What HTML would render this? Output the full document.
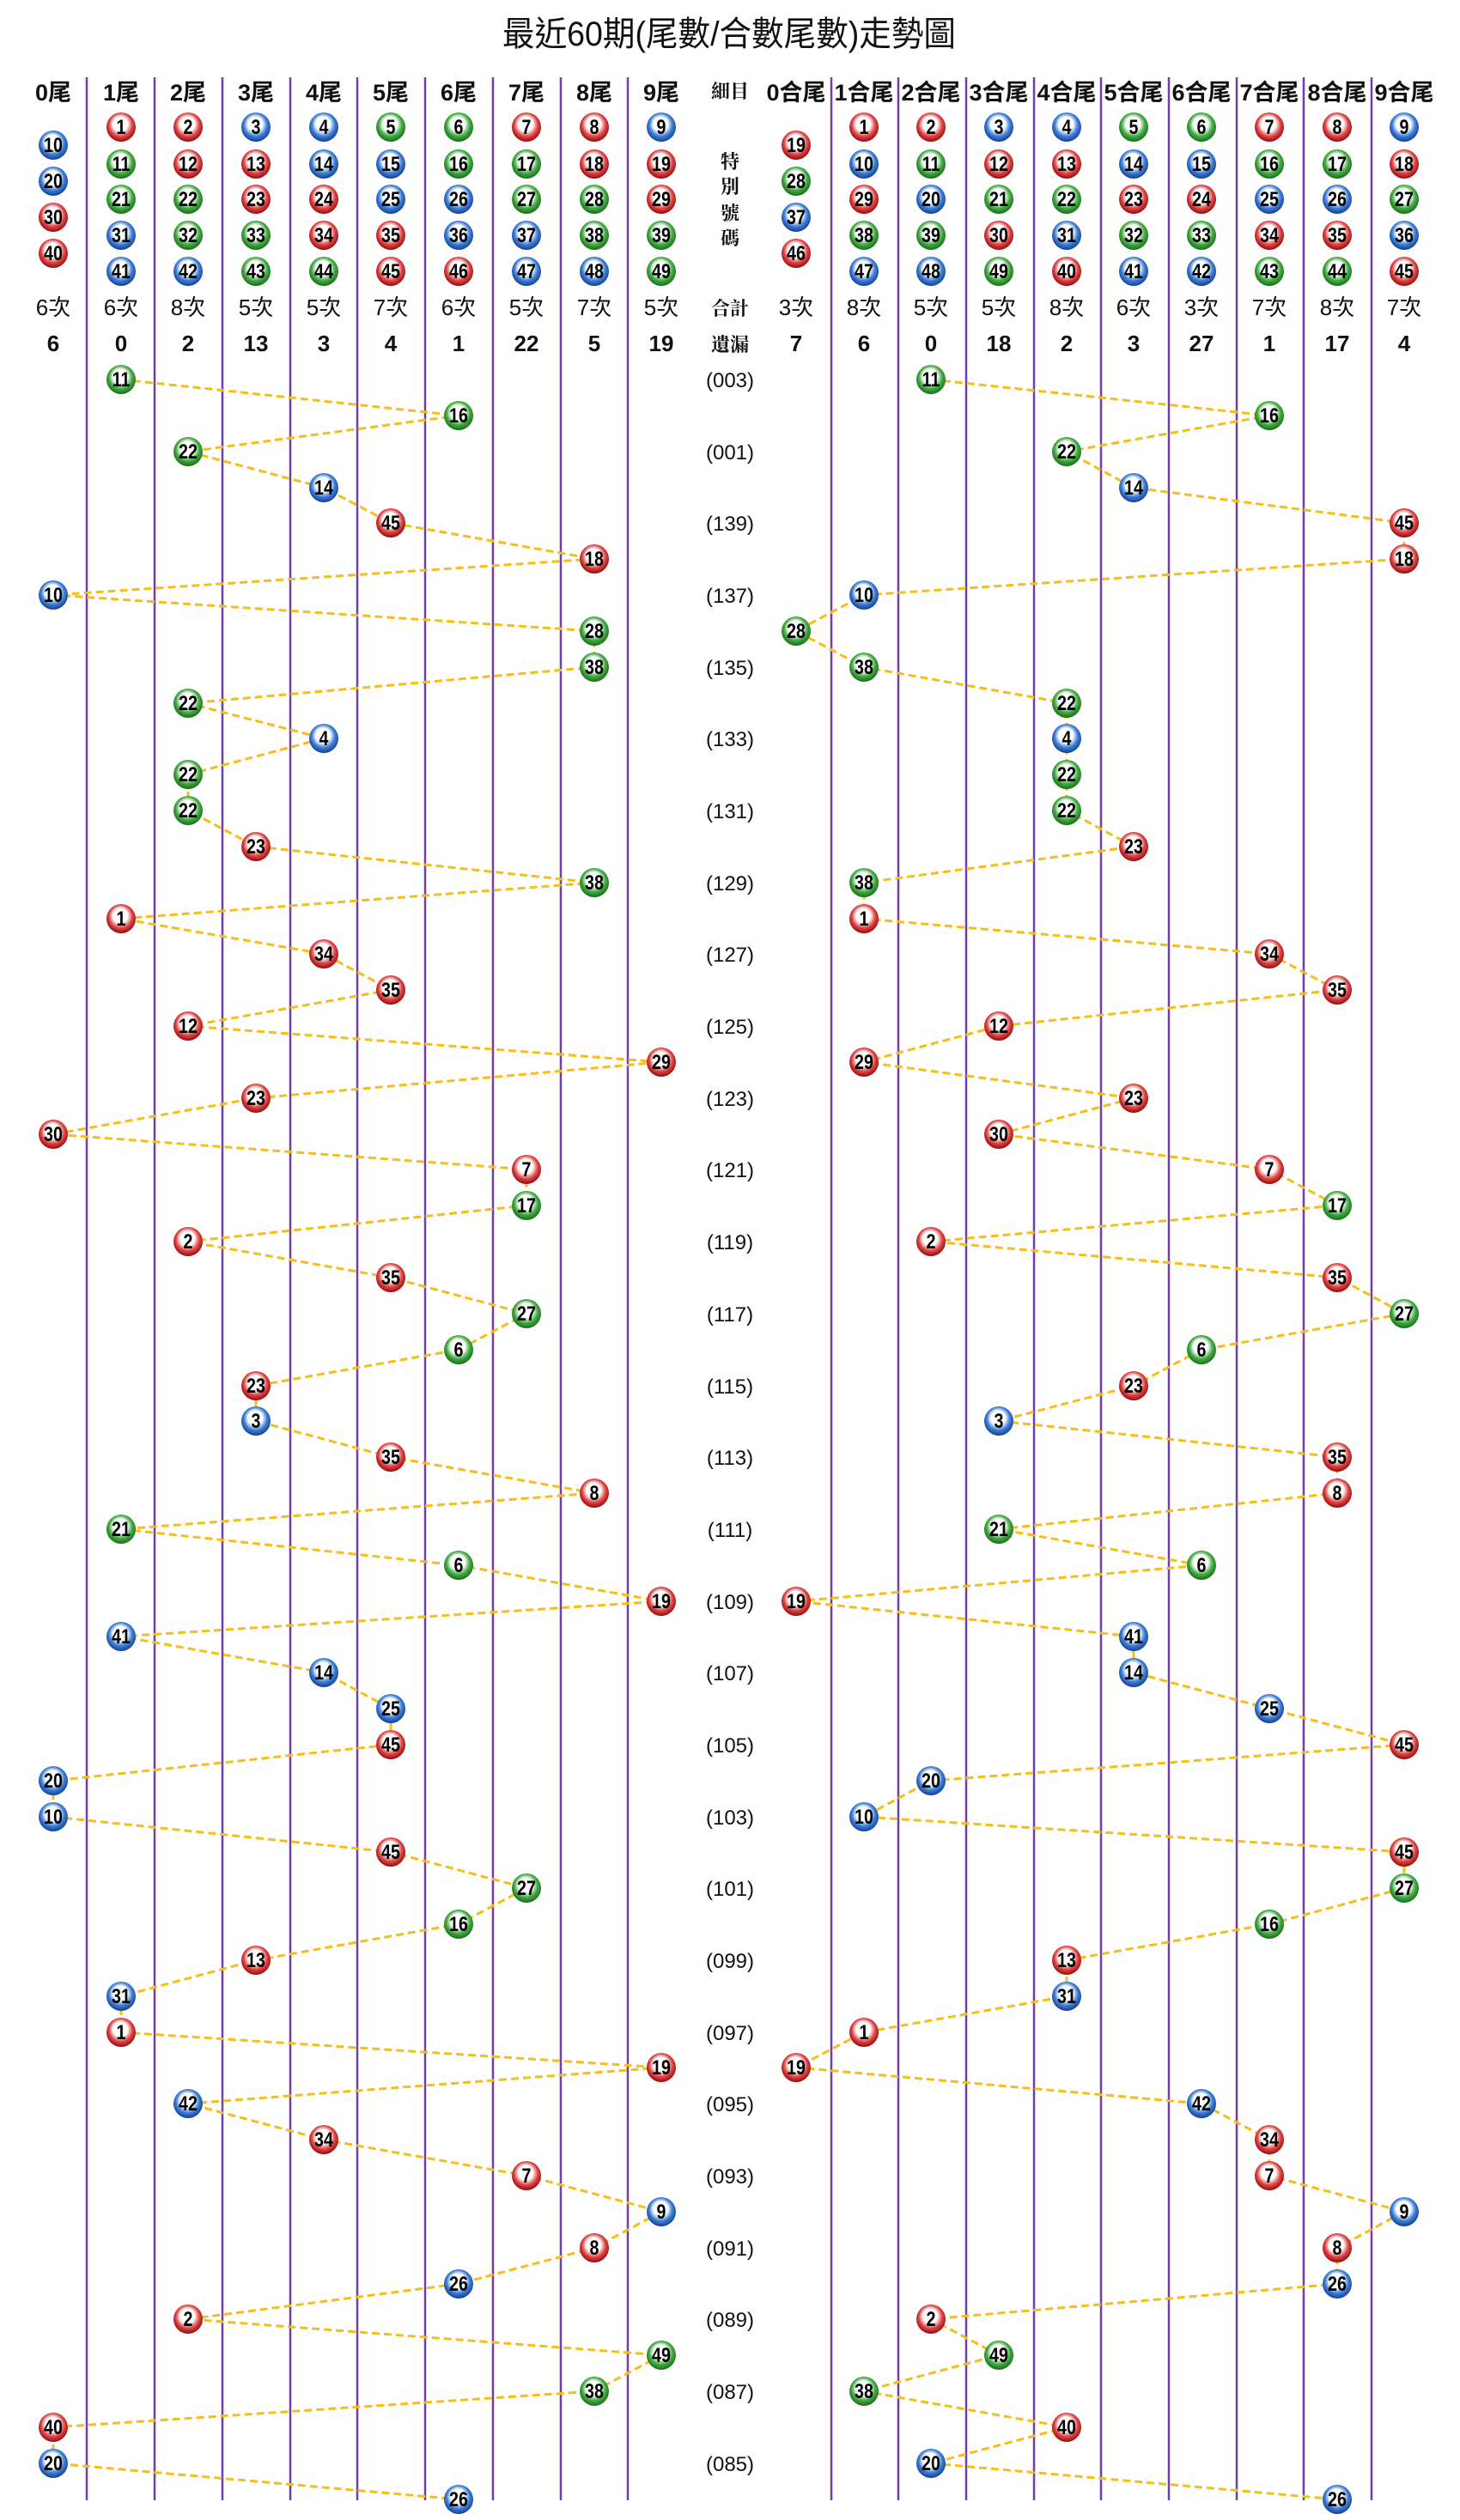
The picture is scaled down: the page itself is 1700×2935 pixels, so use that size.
<!DOCTYPE html>
<html><head><meta charset="utf-8"><style>
html,body{margin:0;padding:0;background:#fff}
svg{display:block}
.t{font-family:"Liberation Sans","Noto Sans CJK TC",sans-serif;fill:#111}
.b text{font-family:"Liberation Sans Narrow","Liberation Sans",sans-serif;font-weight:bold;font-size:24px;text-anchor:middle;fill:#000;transform:scaleX(.82)}
.r circle{fill:url(#R)}.g circle{fill:url(#G)}.u circle{fill:url(#B)}
.h{font-size:27px;font-weight:bold;text-anchor:middle}
.c{font-size:26px;text-anchor:middle}
.m{font-size:26px;font-weight:bold;text-anchor:middle}
.s{font-family:"Noto Serif CJK SC",serif;font-size:22px;text-anchor:middle;font-weight:bold;fill:#111}
.p{font-size:24px;text-anchor:middle}
.ln{fill:none;stroke:#f7bd1a;stroke-width:3;stroke-dasharray:9 5}
</style></head><body>
<svg width="1700" height="2935" viewBox="0 0 1700 2935" xmlns="http://www.w3.org/2000/svg">
<defs>
<radialGradient id="R" cx="50%" cy="45%" r="55%" fx="45%" fy="35%"><stop offset="0" stop-color="#fff"/><stop offset="0.45" stop-color="#fff"/><stop offset="0.72" stop-color="#e04848"/><stop offset="1" stop-color="#9a0808"/></radialGradient>
<radialGradient id="G" cx="50%" cy="45%" r="55%" fx="45%" fy="35%"><stop offset="0" stop-color="#fff"/><stop offset="0.45" stop-color="#fff"/><stop offset="0.72" stop-color="#44ac44"/><stop offset="1" stop-color="#176e17"/></radialGradient>
<radialGradient id="B" cx="50%" cy="45%" r="55%" fx="45%" fy="35%"><stop offset="0" stop-color="#fff"/><stop offset="0.45" stop-color="#fff"/><stop offset="0.72" stop-color="#3f7fd6"/><stop offset="1" stop-color="#123f98"/></radialGradient>
</defs>
<text class="t" x="849" y="53" text-anchor="middle" font-size="40" textLength="528" lengthAdjust="spacingAndGlyphs">最近60期(尾數/合數尾數)走勢圖</text>
<g stroke="#7040a8" stroke-width="2.5">
<line x1="101" y1="90" x2="101" y2="2912"/><line x1="180" y1="90" x2="180" y2="2912"/><line x1="259" y1="90" x2="259" y2="2912"/><line x1="338" y1="90" x2="338" y2="2912"/><line x1="416" y1="90" x2="416" y2="2912"/><line x1="495" y1="90" x2="495" y2="2912"/><line x1="574" y1="90" x2="574" y2="2912"/><line x1="653" y1="90" x2="653" y2="2912"/><line x1="731" y1="90" x2="731" y2="2912"/>
<line x1="968" y1="90" x2="968" y2="2912"/><line x1="1046" y1="90" x2="1046" y2="2912"/><line x1="1125" y1="90" x2="1125" y2="2912"/><line x1="1204" y1="90" x2="1204" y2="2912"/><line x1="1282" y1="90" x2="1282" y2="2912"/><line x1="1361" y1="90" x2="1361" y2="2912"/><line x1="1440" y1="90" x2="1440" y2="2912"/><line x1="1518" y1="90" x2="1518" y2="2912"/><line x1="1597" y1="90" x2="1597" y2="2912"/>
</g>
<g class="t">
<text class="h" x="62" y="117">0尾</text><text class="h" x="141" y="117">1尾</text><text class="h" x="219" y="117">2尾</text><text class="h" x="298" y="117">3尾</text><text class="h" x="377" y="117">4尾</text><text class="h" x="455" y="117">5尾</text><text class="h" x="534" y="117">6尾</text><text class="h" x="613" y="117">7尾</text><text class="h" x="692" y="117">8尾</text><text class="h" x="770" y="117">9尾</text>
<text class="h" x="927" y="117">0合尾</text><text class="h" x="1006" y="117">1合尾</text><text class="h" x="1084" y="117">2合尾</text><text class="h" x="1163" y="117">3合尾</text><text class="h" x="1242" y="117">4合尾</text><text class="h" x="1320" y="117">5合尾</text><text class="h" x="1399" y="117">6合尾</text><text class="h" x="1478" y="117">7合尾</text><text class="h" x="1557" y="117">8合尾</text><text class="h" x="1635" y="117">9合尾</text>
</g>
<text class="s" x="850" y="114">細目</text>
<text class="s" x="850" y="196">特</text><text class="s" x="850" y="225">別</text><text class="s" x="850" y="256">號</text><text class="s" x="850" y="285">碼</text>
<text class="s" x="850" y="367">合計</text><text class="s" x="850" y="409">遺漏</text>
<g class="t">
<text class="c" x="62" y="367">6次</text><text class="c" x="141" y="367">6次</text><text class="c" x="219" y="367">8次</text><text class="c" x="298" y="367">5次</text><text class="c" x="377" y="367">5次</text><text class="c" x="455" y="367">7次</text><text class="c" x="534" y="367">6次</text><text class="c" x="613" y="367">5次</text><text class="c" x="692" y="367">7次</text><text class="c" x="770" y="367">5次</text>
<text class="c" x="927" y="367">3次</text><text class="c" x="1006" y="367">8次</text><text class="c" x="1084" y="367">5次</text><text class="c" x="1163" y="367">5次</text><text class="c" x="1242" y="367">8次</text><text class="c" x="1320" y="367">6次</text><text class="c" x="1399" y="367">3次</text><text class="c" x="1478" y="367">7次</text><text class="c" x="1557" y="367">8次</text><text class="c" x="1635" y="367">7次</text>
<text class="m" x="62" y="409">6</text><text class="m" x="141" y="409">0</text><text class="m" x="219" y="409">2</text><text class="m" x="298" y="409">13</text><text class="m" x="377" y="409">3</text><text class="m" x="455" y="409">4</text><text class="m" x="534" y="409">1</text><text class="m" x="613" y="409">22</text><text class="m" x="692" y="409">5</text><text class="m" x="770" y="409">19</text>
<text class="m" x="927" y="409">7</text><text class="m" x="1006" y="409">6</text><text class="m" x="1084" y="409">0</text><text class="m" x="1163" y="409">18</text><text class="m" x="1242" y="409">2</text><text class="m" x="1320" y="409">3</text><text class="m" x="1399" y="409">27</text><text class="m" x="1478" y="409">1</text><text class="m" x="1557" y="409">17</text><text class="m" x="1635" y="409">4</text>
</g>
<g class="t">
<text class="p" x="850" y="451">(003)</text><text class="p" x="850" y="535">(001)</text><text class="p" x="850" y="618">(139)</text><text class="p" x="850" y="702">(137)</text><text class="p" x="850" y="786">(135)</text><text class="p" x="850" y="869">(133)</text><text class="p" x="850" y="953">(131)</text><text class="p" x="850" y="1037">(129)</text><text class="p" x="850" y="1120">(127)</text><text class="p" x="850" y="1204">(125)</text><text class="p" x="850" y="1288">(123)</text><text class="p" x="850" y="1371">(121)</text><text class="p" x="850" y="1455">(119)</text><text class="p" x="850" y="1539">(117)</text><text class="p" x="850" y="1623">(115)</text><text class="p" x="850" y="1706">(113)</text><text class="p" x="850" y="1790">(111)</text><text class="p" x="850" y="1874">(109)</text><text class="p" x="850" y="1957">(107)</text><text class="p" x="850" y="2041">(105)</text><text class="p" x="850" y="2125">(103)</text><text class="p" x="850" y="2208">(101)</text><text class="p" x="850" y="2292">(099)</text><text class="p" x="850" y="2376">(097)</text><text class="p" x="850" y="2459">(095)</text><text class="p" x="850" y="2543">(093)</text><text class="p" x="850" y="2627">(091)</text><text class="p" x="850" y="2710">(089)</text><text class="p" x="850" y="2794">(087)</text><text class="p" x="850" y="2878">(085)</text>
</g>
<polyline class="ln" points="141,442 534,484 219,526 377,568 455,609 692,651 62,693 692,735 692,777 219,819 377,860 219,902 219,944 298,986 692,1028 141,1070 377,1111 455,1153 219,1195 770,1237 298,1279 62,1321 613,1362 613,1404 219,1446 455,1488 613,1530 534,1572 298,1614 298,1655 455,1697 692,1739 141,1781 534,1823 770,1865 141,1906 377,1948 455,1990 455,2032 62,2074 62,2116 455,2157 613,2199 534,2241 298,2283 141,2325 141,2367 770,2408 219,2450 377,2492 613,2534 770,2576 692,2618 534,2660 219,2701 770,2743 692,2785 62,2827 62,2869 534,2911"/>
<polyline class="ln" points="1084,442 1478,484 1242,526 1320,568 1635,609 1635,651 1006,693 927,735 1006,777 1242,819 1242,860 1242,902 1242,944 1320,986 1006,1028 1006,1070 1478,1111 1557,1153 1163,1195 1006,1237 1320,1279 1163,1321 1478,1362 1557,1404 1084,1446 1557,1488 1635,1530 1399,1572 1320,1614 1163,1655 1557,1697 1557,1739 1163,1781 1399,1823 927,1865 1320,1906 1320,1948 1478,1990 1635,2032 1084,2074 1006,2116 1635,2157 1635,2199 1478,2241 1242,2283 1242,2325 1006,2367 927,2408 1399,2450 1478,2492 1478,2534 1635,2576 1557,2618 1557,2660 1084,2701 1163,2743 1006,2785 1242,2827 1084,2869 1557,2911"/>
<g class="b u" transform="translate(62 169)"><circle r="17"/><text y="8">10</text></g>
<g class="b u" transform="translate(62 211)"><circle r="17"/><text y="8">20</text></g>
<g class="b r" transform="translate(62 253)"><circle r="17"/><text y="8">30</text></g>
<g class="b r" transform="translate(62 295)"><circle r="17"/><text y="8">40</text></g>
<g class="b r" transform="translate(141 148)"><circle r="17"/><text y="8">1</text></g>
<g class="b g" transform="translate(141 191)"><circle r="17"/><text y="8">11</text></g>
<g class="b g" transform="translate(141 232)"><circle r="17"/><text y="8">21</text></g>
<g class="b u" transform="translate(141 274)"><circle r="17"/><text y="8">31</text></g>
<g class="b u" transform="translate(141 316)"><circle r="17"/><text y="8">41</text></g>
<g class="b r" transform="translate(219 148)"><circle r="17"/><text y="8">2</text></g>
<g class="b r" transform="translate(219 191)"><circle r="17"/><text y="8">12</text></g>
<g class="b g" transform="translate(219 232)"><circle r="17"/><text y="8">22</text></g>
<g class="b g" transform="translate(219 274)"><circle r="17"/><text y="8">32</text></g>
<g class="b u" transform="translate(219 316)"><circle r="17"/><text y="8">42</text></g>
<g class="b u" transform="translate(298 148)"><circle r="17"/><text y="8">3</text></g>
<g class="b r" transform="translate(298 191)"><circle r="17"/><text y="8">13</text></g>
<g class="b r" transform="translate(298 232)"><circle r="17"/><text y="8">23</text></g>
<g class="b g" transform="translate(298 274)"><circle r="17"/><text y="8">33</text></g>
<g class="b g" transform="translate(298 316)"><circle r="17"/><text y="8">43</text></g>
<g class="b u" transform="translate(377 148)"><circle r="17"/><text y="8">4</text></g>
<g class="b u" transform="translate(377 191)"><circle r="17"/><text y="8">14</text></g>
<g class="b r" transform="translate(377 232)"><circle r="17"/><text y="8">24</text></g>
<g class="b r" transform="translate(377 274)"><circle r="17"/><text y="8">34</text></g>
<g class="b g" transform="translate(377 316)"><circle r="17"/><text y="8">44</text></g>
<g class="b g" transform="translate(455 148)"><circle r="17"/><text y="8">5</text></g>
<g class="b u" transform="translate(455 191)"><circle r="17"/><text y="8">15</text></g>
<g class="b u" transform="translate(455 232)"><circle r="17"/><text y="8">25</text></g>
<g class="b r" transform="translate(455 274)"><circle r="17"/><text y="8">35</text></g>
<g class="b r" transform="translate(455 316)"><circle r="17"/><text y="8">45</text></g>
<g class="b g" transform="translate(534 148)"><circle r="17"/><text y="8">6</text></g>
<g class="b g" transform="translate(534 191)"><circle r="17"/><text y="8">16</text></g>
<g class="b u" transform="translate(534 232)"><circle r="17"/><text y="8">26</text></g>
<g class="b u" transform="translate(534 274)"><circle r="17"/><text y="8">36</text></g>
<g class="b r" transform="translate(534 316)"><circle r="17"/><text y="8">46</text></g>
<g class="b r" transform="translate(613 148)"><circle r="17"/><text y="8">7</text></g>
<g class="b g" transform="translate(613 191)"><circle r="17"/><text y="8">17</text></g>
<g class="b g" transform="translate(613 232)"><circle r="17"/><text y="8">27</text></g>
<g class="b u" transform="translate(613 274)"><circle r="17"/><text y="8">37</text></g>
<g class="b u" transform="translate(613 316)"><circle r="17"/><text y="8">47</text></g>
<g class="b r" transform="translate(692 148)"><circle r="17"/><text y="8">8</text></g>
<g class="b r" transform="translate(692 191)"><circle r="17"/><text y="8">18</text></g>
<g class="b g" transform="translate(692 232)"><circle r="17"/><text y="8">28</text></g>
<g class="b g" transform="translate(692 274)"><circle r="17"/><text y="8">38</text></g>
<g class="b u" transform="translate(692 316)"><circle r="17"/><text y="8">48</text></g>
<g class="b u" transform="translate(770 148)"><circle r="17"/><text y="8">9</text></g>
<g class="b r" transform="translate(770 191)"><circle r="17"/><text y="8">19</text></g>
<g class="b r" transform="translate(770 232)"><circle r="17"/><text y="8">29</text></g>
<g class="b g" transform="translate(770 274)"><circle r="17"/><text y="8">39</text></g>
<g class="b g" transform="translate(770 316)"><circle r="17"/><text y="8">49</text></g>
<g class="b r" transform="translate(927 169)"><circle r="17"/><text y="8">19</text></g>
<g class="b g" transform="translate(927 211)"><circle r="17"/><text y="8">28</text></g>
<g class="b u" transform="translate(927 253)"><circle r="17"/><text y="8">37</text></g>
<g class="b r" transform="translate(927 295)"><circle r="17"/><text y="8">46</text></g>
<g class="b r" transform="translate(1006 148)"><circle r="17"/><text y="8">1</text></g>
<g class="b u" transform="translate(1006 191)"><circle r="17"/><text y="8">10</text></g>
<g class="b r" transform="translate(1006 232)"><circle r="17"/><text y="8">29</text></g>
<g class="b g" transform="translate(1006 274)"><circle r="17"/><text y="8">38</text></g>
<g class="b u" transform="translate(1006 316)"><circle r="17"/><text y="8">47</text></g>
<g class="b r" transform="translate(1084 148)"><circle r="17"/><text y="8">2</text></g>
<g class="b g" transform="translate(1084 191)"><circle r="17"/><text y="8">11</text></g>
<g class="b u" transform="translate(1084 232)"><circle r="17"/><text y="8">20</text></g>
<g class="b g" transform="translate(1084 274)"><circle r="17"/><text y="8">39</text></g>
<g class="b u" transform="translate(1084 316)"><circle r="17"/><text y="8">48</text></g>
<g class="b u" transform="translate(1163 148)"><circle r="17"/><text y="8">3</text></g>
<g class="b r" transform="translate(1163 191)"><circle r="17"/><text y="8">12</text></g>
<g class="b g" transform="translate(1163 232)"><circle r="17"/><text y="8">21</text></g>
<g class="b r" transform="translate(1163 274)"><circle r="17"/><text y="8">30</text></g>
<g class="b g" transform="translate(1163 316)"><circle r="17"/><text y="8">49</text></g>
<g class="b u" transform="translate(1242 148)"><circle r="17"/><text y="8">4</text></g>
<g class="b r" transform="translate(1242 191)"><circle r="17"/><text y="8">13</text></g>
<g class="b g" transform="translate(1242 232)"><circle r="17"/><text y="8">22</text></g>
<g class="b u" transform="translate(1242 274)"><circle r="17"/><text y="8">31</text></g>
<g class="b r" transform="translate(1242 316)"><circle r="17"/><text y="8">40</text></g>
<g class="b g" transform="translate(1320 148)"><circle r="17"/><text y="8">5</text></g>
<g class="b u" transform="translate(1320 191)"><circle r="17"/><text y="8">14</text></g>
<g class="b r" transform="translate(1320 232)"><circle r="17"/><text y="8">23</text></g>
<g class="b g" transform="translate(1320 274)"><circle r="17"/><text y="8">32</text></g>
<g class="b u" transform="translate(1320 316)"><circle r="17"/><text y="8">41</text></g>
<g class="b g" transform="translate(1399 148)"><circle r="17"/><text y="8">6</text></g>
<g class="b u" transform="translate(1399 191)"><circle r="17"/><text y="8">15</text></g>
<g class="b r" transform="translate(1399 232)"><circle r="17"/><text y="8">24</text></g>
<g class="b g" transform="translate(1399 274)"><circle r="17"/><text y="8">33</text></g>
<g class="b u" transform="translate(1399 316)"><circle r="17"/><text y="8">42</text></g>
<g class="b r" transform="translate(1478 148)"><circle r="17"/><text y="8">7</text></g>
<g class="b g" transform="translate(1478 191)"><circle r="17"/><text y="8">16</text></g>
<g class="b u" transform="translate(1478 232)"><circle r="17"/><text y="8">25</text></g>
<g class="b r" transform="translate(1478 274)"><circle r="17"/><text y="8">34</text></g>
<g class="b g" transform="translate(1478 316)"><circle r="17"/><text y="8">43</text></g>
<g class="b r" transform="translate(1557 148)"><circle r="17"/><text y="8">8</text></g>
<g class="b g" transform="translate(1557 191)"><circle r="17"/><text y="8">17</text></g>
<g class="b u" transform="translate(1557 232)"><circle r="17"/><text y="8">26</text></g>
<g class="b r" transform="translate(1557 274)"><circle r="17"/><text y="8">35</text></g>
<g class="b g" transform="translate(1557 316)"><circle r="17"/><text y="8">44</text></g>
<g class="b u" transform="translate(1635 148)"><circle r="17"/><text y="8">9</text></g>
<g class="b r" transform="translate(1635 191)"><circle r="17"/><text y="8">18</text></g>
<g class="b g" transform="translate(1635 232)"><circle r="17"/><text y="8">27</text></g>
<g class="b u" transform="translate(1635 274)"><circle r="17"/><text y="8">36</text></g>
<g class="b r" transform="translate(1635 316)"><circle r="17"/><text y="8">45</text></g>
<g class="b g" transform="translate(141 442)"><circle r="17"/><text y="8">11</text></g>
<g class="b g" transform="translate(534 484)"><circle r="17"/><text y="8">16</text></g>
<g class="b g" transform="translate(219 526)"><circle r="17"/><text y="8">22</text></g>
<g class="b u" transform="translate(377 568)"><circle r="17"/><text y="8">14</text></g>
<g class="b r" transform="translate(455 609)"><circle r="17"/><text y="8">45</text></g>
<g class="b r" transform="translate(692 651)"><circle r="17"/><text y="8">18</text></g>
<g class="b u" transform="translate(62 693)"><circle r="17"/><text y="8">10</text></g>
<g class="b g" transform="translate(692 735)"><circle r="17"/><text y="8">28</text></g>
<g class="b g" transform="translate(692 777)"><circle r="17"/><text y="8">38</text></g>
<g class="b g" transform="translate(219 819)"><circle r="17"/><text y="8">22</text></g>
<g class="b u" transform="translate(377 860)"><circle r="17"/><text y="8">4</text></g>
<g class="b g" transform="translate(219 902)"><circle r="17"/><text y="8">22</text></g>
<g class="b g" transform="translate(219 944)"><circle r="17"/><text y="8">22</text></g>
<g class="b r" transform="translate(298 986)"><circle r="17"/><text y="8">23</text></g>
<g class="b g" transform="translate(692 1028)"><circle r="17"/><text y="8">38</text></g>
<g class="b r" transform="translate(141 1070)"><circle r="17"/><text y="8">1</text></g>
<g class="b r" transform="translate(377 1111)"><circle r="17"/><text y="8">34</text></g>
<g class="b r" transform="translate(455 1153)"><circle r="17"/><text y="8">35</text></g>
<g class="b r" transform="translate(219 1195)"><circle r="17"/><text y="8">12</text></g>
<g class="b r" transform="translate(770 1237)"><circle r="17"/><text y="8">29</text></g>
<g class="b r" transform="translate(298 1279)"><circle r="17"/><text y="8">23</text></g>
<g class="b r" transform="translate(62 1321)"><circle r="17"/><text y="8">30</text></g>
<g class="b r" transform="translate(613 1362)"><circle r="17"/><text y="8">7</text></g>
<g class="b g" transform="translate(613 1404)"><circle r="17"/><text y="8">17</text></g>
<g class="b r" transform="translate(219 1446)"><circle r="17"/><text y="8">2</text></g>
<g class="b r" transform="translate(455 1488)"><circle r="17"/><text y="8">35</text></g>
<g class="b g" transform="translate(613 1530)"><circle r="17"/><text y="8">27</text></g>
<g class="b g" transform="translate(534 1572)"><circle r="17"/><text y="8">6</text></g>
<g class="b r" transform="translate(298 1614)"><circle r="17"/><text y="8">23</text></g>
<g class="b u" transform="translate(298 1655)"><circle r="17"/><text y="8">3</text></g>
<g class="b r" transform="translate(455 1697)"><circle r="17"/><text y="8">35</text></g>
<g class="b r" transform="translate(692 1739)"><circle r="17"/><text y="8">8</text></g>
<g class="b g" transform="translate(141 1781)"><circle r="17"/><text y="8">21</text></g>
<g class="b g" transform="translate(534 1823)"><circle r="17"/><text y="8">6</text></g>
<g class="b r" transform="translate(770 1865)"><circle r="17"/><text y="8">19</text></g>
<g class="b u" transform="translate(141 1906)"><circle r="17"/><text y="8">41</text></g>
<g class="b u" transform="translate(377 1948)"><circle r="17"/><text y="8">14</text></g>
<g class="b u" transform="translate(455 1990)"><circle r="17"/><text y="8">25</text></g>
<g class="b r" transform="translate(455 2032)"><circle r="17"/><text y="8">45</text></g>
<g class="b u" transform="translate(62 2074)"><circle r="17"/><text y="8">20</text></g>
<g class="b u" transform="translate(62 2116)"><circle r="17"/><text y="8">10</text></g>
<g class="b r" transform="translate(455 2157)"><circle r="17"/><text y="8">45</text></g>
<g class="b g" transform="translate(613 2199)"><circle r="17"/><text y="8">27</text></g>
<g class="b g" transform="translate(534 2241)"><circle r="17"/><text y="8">16</text></g>
<g class="b r" transform="translate(298 2283)"><circle r="17"/><text y="8">13</text></g>
<g class="b u" transform="translate(141 2325)"><circle r="17"/><text y="8">31</text></g>
<g class="b r" transform="translate(141 2367)"><circle r="17"/><text y="8">1</text></g>
<g class="b r" transform="translate(770 2408)"><circle r="17"/><text y="8">19</text></g>
<g class="b u" transform="translate(219 2450)"><circle r="17"/><text y="8">42</text></g>
<g class="b r" transform="translate(377 2492)"><circle r="17"/><text y="8">34</text></g>
<g class="b r" transform="translate(613 2534)"><circle r="17"/><text y="8">7</text></g>
<g class="b u" transform="translate(770 2576)"><circle r="17"/><text y="8">9</text></g>
<g class="b r" transform="translate(692 2618)"><circle r="17"/><text y="8">8</text></g>
<g class="b u" transform="translate(534 2660)"><circle r="17"/><text y="8">26</text></g>
<g class="b r" transform="translate(219 2701)"><circle r="17"/><text y="8">2</text></g>
<g class="b g" transform="translate(770 2743)"><circle r="17"/><text y="8">49</text></g>
<g class="b g" transform="translate(692 2785)"><circle r="17"/><text y="8">38</text></g>
<g class="b r" transform="translate(62 2827)"><circle r="17"/><text y="8">40</text></g>
<g class="b u" transform="translate(62 2869)"><circle r="17"/><text y="8">20</text></g>
<g class="b u" transform="translate(534 2911)"><circle r="17"/><text y="8">26</text></g>
<g class="b g" transform="translate(1084 442)"><circle r="17"/><text y="8">11</text></g>
<g class="b g" transform="translate(1478 484)"><circle r="17"/><text y="8">16</text></g>
<g class="b g" transform="translate(1242 526)"><circle r="17"/><text y="8">22</text></g>
<g class="b u" transform="translate(1320 568)"><circle r="17"/><text y="8">14</text></g>
<g class="b r" transform="translate(1635 609)"><circle r="17"/><text y="8">45</text></g>
<g class="b r" transform="translate(1635 651)"><circle r="17"/><text y="8">18</text></g>
<g class="b u" transform="translate(1006 693)"><circle r="17"/><text y="8">10</text></g>
<g class="b g" transform="translate(927 735)"><circle r="17"/><text y="8">28</text></g>
<g class="b g" transform="translate(1006 777)"><circle r="17"/><text y="8">38</text></g>
<g class="b g" transform="translate(1242 819)"><circle r="17"/><text y="8">22</text></g>
<g class="b u" transform="translate(1242 860)"><circle r="17"/><text y="8">4</text></g>
<g class="b g" transform="translate(1242 902)"><circle r="17"/><text y="8">22</text></g>
<g class="b g" transform="translate(1242 944)"><circle r="17"/><text y="8">22</text></g>
<g class="b r" transform="translate(1320 986)"><circle r="17"/><text y="8">23</text></g>
<g class="b g" transform="translate(1006 1028)"><circle r="17"/><text y="8">38</text></g>
<g class="b r" transform="translate(1006 1070)"><circle r="17"/><text y="8">1</text></g>
<g class="b r" transform="translate(1478 1111)"><circle r="17"/><text y="8">34</text></g>
<g class="b r" transform="translate(1557 1153)"><circle r="17"/><text y="8">35</text></g>
<g class="b r" transform="translate(1163 1195)"><circle r="17"/><text y="8">12</text></g>
<g class="b r" transform="translate(1006 1237)"><circle r="17"/><text y="8">29</text></g>
<g class="b r" transform="translate(1320 1279)"><circle r="17"/><text y="8">23</text></g>
<g class="b r" transform="translate(1163 1321)"><circle r="17"/><text y="8">30</text></g>
<g class="b r" transform="translate(1478 1362)"><circle r="17"/><text y="8">7</text></g>
<g class="b g" transform="translate(1557 1404)"><circle r="17"/><text y="8">17</text></g>
<g class="b r" transform="translate(1084 1446)"><circle r="17"/><text y="8">2</text></g>
<g class="b r" transform="translate(1557 1488)"><circle r="17"/><text y="8">35</text></g>
<g class="b g" transform="translate(1635 1530)"><circle r="17"/><text y="8">27</text></g>
<g class="b g" transform="translate(1399 1572)"><circle r="17"/><text y="8">6</text></g>
<g class="b r" transform="translate(1320 1614)"><circle r="17"/><text y="8">23</text></g>
<g class="b u" transform="translate(1163 1655)"><circle r="17"/><text y="8">3</text></g>
<g class="b r" transform="translate(1557 1697)"><circle r="17"/><text y="8">35</text></g>
<g class="b r" transform="translate(1557 1739)"><circle r="17"/><text y="8">8</text></g>
<g class="b g" transform="translate(1163 1781)"><circle r="17"/><text y="8">21</text></g>
<g class="b g" transform="translate(1399 1823)"><circle r="17"/><text y="8">6</text></g>
<g class="b r" transform="translate(927 1865)"><circle r="17"/><text y="8">19</text></g>
<g class="b u" transform="translate(1320 1906)"><circle r="17"/><text y="8">41</text></g>
<g class="b u" transform="translate(1320 1948)"><circle r="17"/><text y="8">14</text></g>
<g class="b u" transform="translate(1478 1990)"><circle r="17"/><text y="8">25</text></g>
<g class="b r" transform="translate(1635 2032)"><circle r="17"/><text y="8">45</text></g>
<g class="b u" transform="translate(1084 2074)"><circle r="17"/><text y="8">20</text></g>
<g class="b u" transform="translate(1006 2116)"><circle r="17"/><text y="8">10</text></g>
<g class="b r" transform="translate(1635 2157)"><circle r="17"/><text y="8">45</text></g>
<g class="b g" transform="translate(1635 2199)"><circle r="17"/><text y="8">27</text></g>
<g class="b g" transform="translate(1478 2241)"><circle r="17"/><text y="8">16</text></g>
<g class="b r" transform="translate(1242 2283)"><circle r="17"/><text y="8">13</text></g>
<g class="b u" transform="translate(1242 2325)"><circle r="17"/><text y="8">31</text></g>
<g class="b r" transform="translate(1006 2367)"><circle r="17"/><text y="8">1</text></g>
<g class="b r" transform="translate(927 2408)"><circle r="17"/><text y="8">19</text></g>
<g class="b u" transform="translate(1399 2450)"><circle r="17"/><text y="8">42</text></g>
<g class="b r" transform="translate(1478 2492)"><circle r="17"/><text y="8">34</text></g>
<g class="b r" transform="translate(1478 2534)"><circle r="17"/><text y="8">7</text></g>
<g class="b u" transform="translate(1635 2576)"><circle r="17"/><text y="8">9</text></g>
<g class="b r" transform="translate(1557 2618)"><circle r="17"/><text y="8">8</text></g>
<g class="b u" transform="translate(1557 2660)"><circle r="17"/><text y="8">26</text></g>
<g class="b r" transform="translate(1084 2701)"><circle r="17"/><text y="8">2</text></g>
<g class="b g" transform="translate(1163 2743)"><circle r="17"/><text y="8">49</text></g>
<g class="b g" transform="translate(1006 2785)"><circle r="17"/><text y="8">38</text></g>
<g class="b r" transform="translate(1242 2827)"><circle r="17"/><text y="8">40</text></g>
<g class="b u" transform="translate(1084 2869)"><circle r="17"/><text y="8">20</text></g>
<g class="b u" transform="translate(1557 2911)"><circle r="17"/><text y="8">26</text></g>
</svg>
</body></html>
